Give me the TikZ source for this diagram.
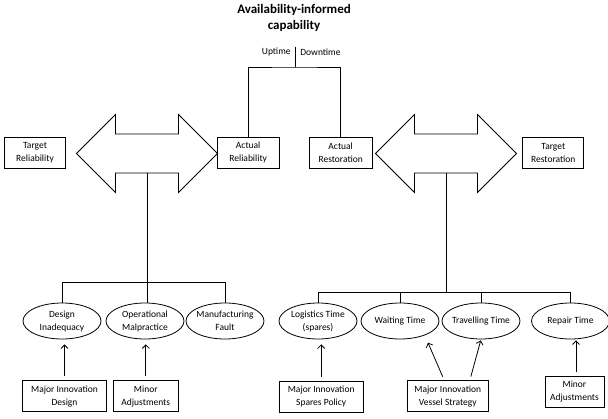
\documentclass[tikz,border=0pt]{standalone}
\usepackage{fontspec}
\setmainfont{Carlito}
\usetikzlibrary{arrows,arrows.meta,shapes.geometric}

\begin{document}
\begin{tikzpicture}[x=1pt,y=-1pt,line width=0.8pt,
  font=\fontsize{9.5}{13}\selectfont,
  box/.style={draw,align=center,minimum height=31pt,inner sep=2pt},
  oval/.style={ellipse,draw,align=center,minimum width=78pt,minimum height=36pt,inner ysep=0pt,inner xsep=-3pt},
  up/.style={-{Straight Barb[length=3.5pt,width=7pt]},shorten <=4pt,shorten >=5pt}]
  \useasboundingbox (0,0) rectangle (608,418);

  % title and split
  \node[font=\fontsize{13}{16}\selectfont\bfseries,align=center] (T) at (294,18) {Availability-informed\\capability};
  \coordinate (top) at (295,46.5);
  \coordinate (J) at (295,67);
  \node[anchor=east,inner sep=1pt] (UT) at (292,52) {Uptime};
  \node[anchor=west,inner sep=1pt] (DT) at (299,52) {Downtime};

  % upper boxes
  \node[box,minimum width=61pt] (TR) at (35,152.5) {Target\\Reliability};
  \node[box,minimum width=62pt] (AR) at (248.2,152.8) {Actual\\Reliability};
  \node[box,minimum width=63pt] (AS) at (340.7,152.8) {Actual\\Restoration};
  \node[box,minimum width=61pt] (TS) at (553.3,152.5) {Target\\Restoration};

  \draw (top) -- (J);
  \draw (AR.north) |- (J) -| (AS.north);

  % double arrows
  \coordinate (LA) at (147,153.5);
  \coordinate (RA) at (446,153.5);
  \draw (LA) ++(-70.5,0) -- ++(39,-39) -- ++(0,19.5) -- ++(63,0) -- ++(0,-19.5) -- ++(39,39)
    -- ++(-39,39) -- ++(0,-19.5) -- ++(-63,0) -- ++(0,19.5) -- cycle;
  \draw (RA) ++(-70.5,0) -- ++(39,-39) -- ++(0,19.5) -- ++(63,0) -- ++(0,-19.5) -- ++(39,39)
    -- ++(-39,39) -- ++(0,-19.5) -- ++(-63,0) -- ++(0,19.5) -- cycle;
  \coordinate (LB) at (147,173);
  \coordinate (RB) at (446,173);

  % causes
  \node[oval] (D1) at (62,321) {Design\\Inadequacy};
  \node[oval] (D2) at (145,321) {Operational\\Malpractice};
  \node[oval] (D3) at (225,321) {Manufacturing\\Fault};
  \node[oval] (E1) at (318,321) {Logistics Time\\(spares)};
  \node[oval] (E2) at (400,321) {Waiting Time};
  \node[oval] (E3) at (481,321) {Travelling Time};
  \node[oval] (E4) at (570.5,321) {Repair Time};

  \coordinate (LH) at ([yshift=20pt]D1.north);
  \coordinate (RH) at ([yshift=10pt]E1.north);
  \draw (D1.north) -- (LH) -| (D3.north);
  \draw (LB) -- (LB |- D2.north);
  \draw (E1.north) -- (RH) -| (E4.north);
  \draw (RB) -- (RB |- RH);
  \draw (E2.north) -- (E2.north |- RH);
  \draw (E3.north) -- (E3.north |- RH);

  % measures
  \node[box,minimum width=84pt] (B1) at (64.5,396.2) {Major Innovation\\Design};
  \node[box,minimum width=65pt] (B2) at (145.8,396.2) {Minor\\Adjustments};
  \node[box,minimum width=84pt] (B3) at (321.2,396.7) {Major Innovation\\Spares Policy};
  \node[box,minimum width=81pt] (B4) at (447.8,396.3) {Major Innovation\\Vessel Strategy};
  \node[box,minimum width=59pt] (B5) at (574.5,391.7) {Minor\\Adjustments};

  \draw[up] (B1.north) -- (B1.north |- D1.south);
  \draw[up] (B2.north) -- (B2.north |- D2.south);
  \draw[up] (B3.north) -- (B3.north |- E1.south);
  \draw[up,shorten >=8pt] ([xshift=-3.5pt]B4.north) -- (E2.-30);
  \draw[up,shorten >=1pt] ([xshift=22pt]B4.north) -- (E3.south);
  \draw[up,shorten >=1pt] ([xshift=1.5pt]B5.north) -- ([xshift=1.5pt]B5.north |- E4.south);
\end{tikzpicture}
\end{document}
